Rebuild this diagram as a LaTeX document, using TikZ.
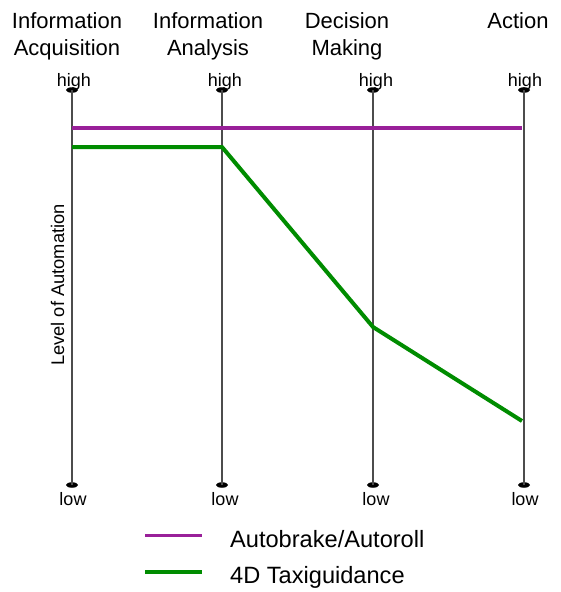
\documentclass[tikz,border=0pt]{standalone}
\usepackage{fontspec}
\setmainfont{Liberation Sans}
\usepackage{tikz}
\usetikzlibrary{shapes.geometric, positioning}
\definecolor{autopurple}{RGB}{153,32,153}
\definecolor{taxigreen}{RGB}{0,140,0}
\tikzstyle{header} = [anchor=north, inner sep=0pt, align=center, font=\fontsize{22}{27}\selectfont]
\tikzstyle{level} = [anchor=base, inner sep=0pt, font=\fontsize{18}{20}\selectfont]
\tikzstyle{legtext} = [anchor=base west, inner sep=0pt, font=\fontsize{23.6}{26}\selectfont]
\tikzstyle{axis} = [line width=1.2pt, draw=black!70]
\tikzstyle{tick} = [ellipse, fill=black, inner sep=0pt, minimum width=12pt, minimum height=5.5pt]
\tikzstyle{purpleline} = [line width=3.8pt, draw=autopurple]
\tikzstyle{greenline} = [line width=4pt, draw=taxigreen, line join=round]

\begin{document}
\begin{tikzpicture}[x=1pt, y=-1pt]
  \useasboundingbox (0,0) rectangle (561,592);

  % column headers
  \node[header] (h-acq) at (67,12) {Information\\Acquisition};
  \node[header] (h-ana) at (208,12) {Information\\Analysis};
  \node[header] (h-dec) at (347,12) {Decision\\Making};
  \node[header] (h-act) at (518,12) {Action};

  % axes
  \node[tick] (top-1) at (72,90) {};
  \node[tick] (top-2) at (222,90) {};
  \node[tick] (top-3) at (373,90) {};
  \node[tick] (top-4) at (524,90) {};
  \node[tick] (bot-1) at (72,485) {};
  \node[tick] (bot-2) at (222,485) {};
  \node[tick] (bot-3) at (373,485) {};
  \node[tick] (bot-4) at (524,485) {};
  \draw[axis] (top-1.center) -- (bot-1.center);
  \draw[axis] (top-2.center) -- (bot-2.center);
  \draw[axis] (top-3.center) -- (bot-3.center);
  \draw[axis] (top-4.center) -- (bot-4.center);

  \node[level] (high-1) at (74,86) {high};
  \node[level] (high-2) at (225,86) {high};
  \node[level] (high-3) at (376,86) {high};
  \node[level] (high-4) at (525,86) {high};
  \node[level] (low-1) at (73,505) {low};
  \node[level] (low-2) at (225,505) {low};
  \node[level] (low-3) at (376,505) {low};
  \node[level] (low-4) at (525,505) {low};

  \node[rotate=90, inner sep=0pt, font=\fontsize{18.3}{20}\selectfont] (ylab) at (57.5,285) {Level of Automation};

  % data
  \coordinate (ab-1) at (72,128);
  \coordinate (ab-4) at (522,128);
  \coordinate (tg-1) at (72,147);
  \coordinate (tg-2) at (222,147);
  \coordinate (tg-3) at (373,327);
  \coordinate (tg-4) at (522,421);
  \draw[purpleline] (ab-1) -- (ab-4);
  \draw[greenline] (tg-1) -- (tg-2) -- (tg-3) -- (tg-4);

  % legend
  \coordinate (leg-ab-a) at (145,535.5);
  \coordinate (leg-ab-b) at (202,535.5);
  \coordinate (leg-tg-a) at (145,571.5);
  \coordinate (leg-tg-b) at (202,571.5);
  \draw[purpleline] (leg-ab-a) -- (leg-ab-b);
  \draw[greenline] (leg-tg-a) -- (leg-tg-b);
  \node[legtext] (leg-ab) at (230,547) {Autobrake/Autoroll};
  \node[legtext] (leg-tg) at (230,583) {4D Taxiguidance};
\end{tikzpicture}
\end{document}
